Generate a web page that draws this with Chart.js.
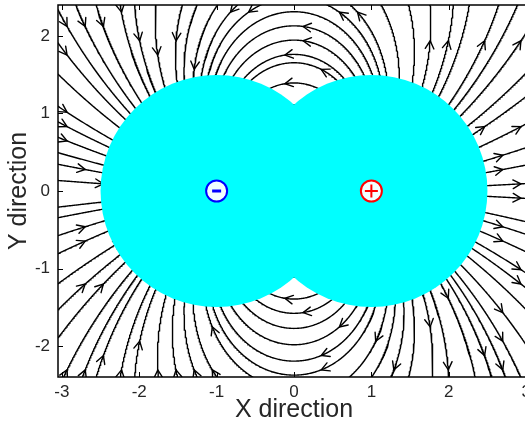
<!DOCTYPE html>
<html>
<head>
<meta charset="utf-8">
<script src="https://cdn.jsdelivr.net/npm/chart.js@4"></script>
<style>
  html, body { margin: 0; padding: 0; overflow: hidden; background: #fff; }
  canvas { display: block; }
</style>
</head>
<body>
<canvas id="fieldChart" width="540" height="423" style="width:540px;height:423px"></canvas>
<script>
// point charges (dipole) and their shields
const chargeX = [-1, 1];
const chargeY = [0, 0];
const chargeQ = [-1, 1];
const shieldR = [1.5, 1.5];

// axes
const xRange = [-3.05, 3.05];
const yRange = [-2.4, 2.4];
const xTicks = [-3, -2, -1, 0, 1, 2, 3];
const yTicks = [-2, -1, 0, 1, 2];

// streamslice-like seeding grids
const seedCols = 26, seedRows = 26;
const fineCols = 104, fineRows = 104;
const stepLen = 0.012;

const W = xRange[1] - xRange[0];
const H = yRange[1] - yRange[0];

function field(x, y) {
    let ex = 0, ey = 0;
    for (let i = 0; i < chargeX.length; i++) {
        const dx = x - chargeX[i], dy = y - chargeY[i];
        const r2 = dx * dx + dy * dy;
        const r3 = r2 * Math.sqrt(r2);
        ex += chargeQ[i] * dx / r3;
        ey += chargeQ[i] * dy / r3;
    }
    return [ex, ey];
}

function dir(x, y) {
    const e = field(x, y);
    const m = Math.hypot(e[0], e[1]);
    if (!isFinite(m) || m === 0) return null;
    return [e[0] / m, e[1] / m];
}

function nearCharge(x, y) {
    for (let i = 0; i < chargeX.length; i++) {
        if (Math.hypot(x - chargeX[i], y - chargeY[i]) < 0.03) return true;
    }
    return false;
}

const fine = new Int32Array(fineCols * fineRows).fill(-1);
const seedUsed = new Uint8Array(seedCols * seedRows);

function cellOf(x, y, cols, rows) {
    const c = Math.max(0, Math.min(cols - 1, Math.floor((x - xRange[0]) / W * cols)));
    const r = Math.max(0, Math.min(rows - 1, Math.floor((y - yRange[0]) / H * rows)));
    return r * cols + c;
}

function trace(x, y, sgn, id) {
    const pts = [];
    let cell = cellOf(x, y, fineCols, fineRows);
    for (let i = 0; i < 4000; i++) {
        const d1 = dir(x, y);
        if (!d1) break;
        const d2 = dir(x + sgn * stepLen * 0.5 * d1[0], y + sgn * stepLen * 0.5 * d1[1]);
        if (!d2) break;
        const nx = x + sgn * stepLen * d2[0];
        const ny = y + sgn * stepLen * d2[1];
        if (nx < xRange[0] || nx > xRange[1] || ny < yRange[0] || ny > yRange[1]) {
            pts.push({ x: nx, y: ny });
            break;
        }
        if (nearCharge(nx, ny)) break;
        const c = cellOf(nx, ny, fineCols, fineRows);
        if (c !== cell) {
            if (fine[c] !== -1) break;
            fine[c] = id;
            cell = c;
        }
        seedUsed[cellOf(nx, ny, seedCols, seedRows)] = 1;
        x = nx; y = ny;
        pts.push({ x: x, y: y });
    }
    return pts;
}

// build streamlines
const lines = [];
const arrows = [];
const nSeeds = seedCols * seedRows;
for (let k = 0; k < nSeeds; k++) {
    const idx = (k * 151) % nSeeds;
    if (seedUsed[idx]) continue;
    const c = idx % seedCols, r = Math.floor(idx / seedCols);
    const x = xRange[0] + (c + 0.5) * W / seedCols;
    const y = yRange[0] + (r + 0.5) * H / seedRows;
    if (nearCharge(x, y)) continue;
    const fc = cellOf(x, y, fineCols, fineRows);
    if (fine[fc] !== -1) continue;
    const id = lines.length;
    fine[fc] = id;
    seedUsed[idx] = 1;
    const fwd = trace(x, y, 1, id);
    const bwd = trace(x, y, -1, id);
    const pts = bwd.reverse().concat([{ x: x, y: y }], fwd);
    lines.push(pts);
    // only the longer streamlines get an arrowhead
    if (pts.length * stepLen > 1.5) arrows.push({ x: x, y: y });
}

const overlay = {
    id: 'overlay',
    afterDatasetsDraw(chart) {
        const { ctx, chartArea: a, scales: { x: sx, y: sy } } = chart;
        ctx.save();
        ctx.beginPath();
        ctx.rect(a.left, a.top, a.right - a.left, a.bottom - a.top);
        ctx.clip();

        // arrowheads at seed points
        ctx.strokeStyle = '#000';
        ctx.lineWidth = 1.4;
        ctx.lineCap = 'round';
        arrows.forEach(p => {
            const d = dir(p.x, p.y);
            if (!d) return;
            const px = sx.getPixelForValue(p.x), py = sy.getPixelForValue(p.y);
            const ang = Math.atan2(-d[1], d[0]);
            const len = 9, spread = 0.5;
            ctx.beginPath();
            ctx.moveTo(px - len * Math.cos(ang - spread), py - len * Math.sin(ang - spread));
            ctx.lineTo(px, py);
            ctx.lineTo(px - len * Math.cos(ang + spread), py - len * Math.sin(ang + spread));
            ctx.stroke();
        });

        // shields
        ctx.fillStyle = '#00ffff';
        for (let i = 0; i < chargeX.length; i++) {
            const cx = sx.getPixelForValue(chargeX[i]), cy = sy.getPixelForValue(chargeY[i]);
            const rad = sx.getPixelForValue(chargeX[i] + shieldR[i]) - cx;
            ctx.beginPath();
            ctx.arc(cx, cy, rad, 0, Math.PI * 2);
            ctx.fill();
        }

        // charge markers
        for (let i = 0; i < chargeX.length; i++) {
            const cx = sx.getPixelForValue(chargeX[i]), cy = sy.getPixelForValue(chargeY[i]);
            const col = chargeQ[i] > 0 ? '#ff0000' : '#0000ff';
            ctx.beginPath();
            ctx.arc(cx, cy, 10.5, 0, Math.PI * 2);
            ctx.fillStyle = '#f2ffff';
            ctx.fill();
            ctx.lineWidth = 2;
            ctx.strokeStyle = col;
            ctx.stroke();
            ctx.lineCap = 'butt';
            ctx.beginPath();
            if (chargeQ[i] > 0) {
                ctx.lineWidth = 2;
                ctx.moveTo(cx - 6.5, cy); ctx.lineTo(cx + 6.5, cy);
                ctx.moveTo(cx, cy - 6.5); ctx.lineTo(cx, cy + 6.5);
            } else {
                ctx.lineWidth = 3;
                ctx.moveTo(cx - 4.5, cy); ctx.lineTo(cx + 4.5, cy);
            }
            ctx.stroke();
        }
        ctx.restore();

        // axes box and inward ticks
        ctx.save();
        ctx.strokeStyle = '#000';
        ctx.lineWidth = 1.5;
        ctx.beginPath();
        ctx.rect(a.left, a.top, a.right - a.left, a.bottom - a.top);
        ctx.stroke();
        ctx.lineWidth = 1;
        ctx.beginPath();
        xTicks.forEach(v => {
            const px = Math.round(sx.getPixelForValue(v)) + 0.5;
            ctx.moveTo(px, a.bottom); ctx.lineTo(px, a.bottom - 5);
            ctx.moveTo(px, a.top); ctx.lineTo(px, a.top + 5);
        });
        yTicks.forEach(v => {
            const py = Math.round(sy.getPixelForValue(v)) + 0.5;
            ctx.moveTo(a.left, py); ctx.lineTo(a.left + 5, py);
            ctx.moveTo(a.right, py); ctx.lineTo(a.right - 5, py);
        });
        ctx.stroke();
        ctx.restore();
    }
};

const font = 'Liberation Sans, Arial, Helvetica, sans-serif';

new Chart(document.getElementById('fieldChart').getContext('2d'), {
    type: 'scatter',
    data: {
        datasets: lines.map(pts => ({
            data: pts,
            showLine: true,
            borderColor: '#000',
            borderWidth: 1.4,
            pointRadius: 0,
            fill: false,
            tension: 0
        }))
    },
    options: {
        responsive: false,
        animation: false,
        events: [],
        layout: { padding: { top: 5, right: 10, left: 0, bottom: 0 } },
        plugins: { legend: { display: false }, tooltip: { enabled: false } },
        scales: {
            x: {
                type: 'linear',
                min: xRange[0],
                max: xRange[1],
                grid: { display: false, drawTicks: false },
                border: { display: false },
                afterBuildTicks: s => { s.ticks = xTicks.map(v => ({ value: v })); },
                afterFit: s => { s.height = 46; s.paddingLeft = 0; s.paddingRight = 0; },
                ticks: { font: { family: font, size: 17 }, color: '#262626', padding: 5, callback: v => String(v) },
                title: { display: true, text: 'X direction', color: '#262626',
                         font: { family: font, size: 25, lineHeight: 1 }, padding: { top: 0, bottom: 0 } }
            },
            y: {
                type: 'linear',
                min: yRange[0],
                max: yRange[1],
                grid: { display: false, drawTicks: false },
                border: { display: false },
                afterBuildTicks: s => { s.ticks = yTicks.map(v => ({ value: v })); },
                afterFit: s => { s.width = 58; s.paddingTop = 0; s.paddingBottom = 0; },
                ticks: { font: { family: font, size: 17 }, color: '#262626', padding: 8, callback: v => String(v) },
                title: { display: true, text: 'Y direction', color: '#262626',
                         font: { family: font, size: 25, lineHeight: 1 }, padding: { top: 7, bottom: 0 } }
            }
        }
    },
    plugins: [overlay]
});
</script>
</body>
</html>
